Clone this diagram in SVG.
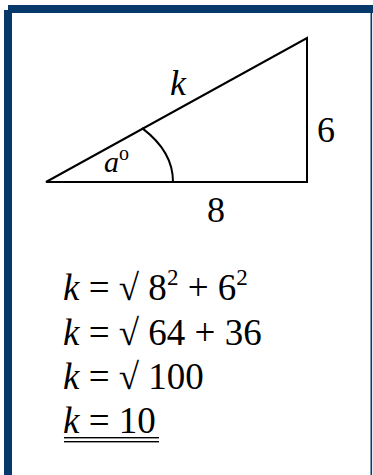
<svg xmlns="http://www.w3.org/2000/svg" width="373" height="475" viewBox="0 0 373 475">
<style>
.frame{fill:#06386a}
.ln{stroke:#000;stroke-width:2;fill:none;stroke-linecap:square}
.t{font-family:"Liberation Serif","Times New Roman",serif;fill:#000}
.i{font-style:italic}
</style>
<rect width="373" height="475" fill="#fff"/>
<g id="frame">
<rect class="frame" x="8" y="5" width="365" height="8"/>
<rect class="frame" x="4" y="10" width="8" height="465"/>
<rect class="frame" x="370.5" y="5" width="1.6" height="470"/>
</g>
<g id="triangle">
<path class="ln" d="M46,182 L307,38 L307,182 Z" stroke-linejoin="miter"/>
<path class="ln" d="M142.7,128.6 A127,82 0 0 1 173,182"/>
</g>
<g id="labels">
<text class="t i" x="170" y="95" font-size="36">k</text>
<text class="t i" x="104" y="172" font-size="30">a</text>
<text class="t" x="119" y="160" font-size="20">o</text>
<text class="t" x="317" y="142" font-size="36">6</text>
<text class="t" x="207" y="222" font-size="36">8</text>
</g>
<g id="equations" class="t" font-size="37">
<text x="63" y="300"><tspan class="i">k</tspan> = √ 8<tspan font-size="23" dy="-15">2</tspan><tspan dy="15"> + 6</tspan><tspan font-size="23" dy="-15">2</tspan></text>
<text x="63" y="345"><tspan class="i">k</tspan> = √ 64 + 36</text>
<text x="63" y="389"><tspan class="i">k</tspan> = √ 100</text>
<text x="63" y="433"><tspan class="i">k</tspan> = 10</text>
<rect x="64" y="437" width="95" height="1.4" fill="#000"/>
<rect x="64" y="441" width="95" height="1.4" fill="#000"/>
</g>
</svg>
